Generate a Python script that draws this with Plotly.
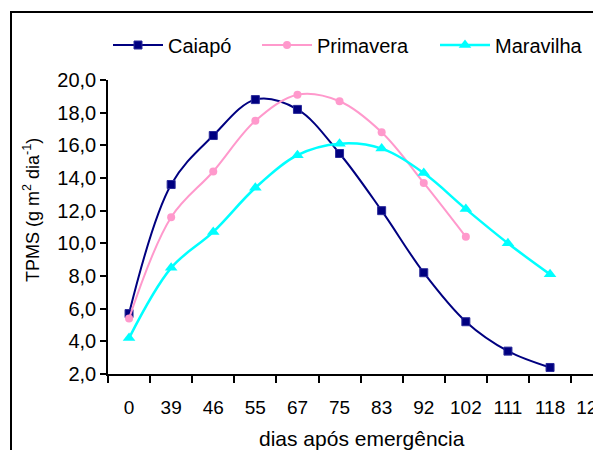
import plotly.graph_objects as go

categories = ["0", "39", "46", "55", "67", "75", "83", "92", "102", "111", "118", "125"]
caiapo = [5.7, 13.6, 16.6, 18.8, 18.2, 15.5, 12.0, 8.2, 5.2, 3.4, 2.4]
primavera = [5.4, 11.6, 14.4, 17.5, 19.1, 18.7, 16.8, 13.7, 10.4]
maravilha = [4.2, 8.5, 10.7, 13.4, 15.4, 16.1, 15.8, 14.3, 12.1, 10.0, 8.1]

FONT = "Liberation Sans, Arial, sans-serif"
OFF = 8  # page body margin
W, H = 601 - OFF, 450 - OFF

def px_x(sx):
    return (sx - OFF) / W

def px_y(sy):
    return 1 - (sy - OFF) / H

PLOT_L, PLOT_T, PLOT_B = 108, 80, 374
pw = W - (PLOT_L - OFF)

fig = go.Figure()
fig.add_trace(go.Scatter(
    x=categories[:len(caiapo)], y=caiapo, name="Caiapó", mode="lines+markers",
    line=dict(color="#000080", width=2, shape="spline", smoothing=1),
    marker=dict(symbol="square", size=8, color="#000080", line=dict(color="#2a2a9a", width=1)),
    legend="legend",
))
fig.add_trace(go.Scatter(
    x=categories[:len(primavera)], y=primavera, name="Primavera", mode="lines+markers",
    line=dict(color="#FF99CC", width=2, shape="spline", smoothing=1),
    marker=dict(symbol="circle", size=8, color="#FF99CC"),
    legend="legend2",
))
fig.add_trace(go.Scatter(
    x=categories[:len(maravilha)], y=maravilha, name="Maravilha", mode="lines+markers",
    line=dict(color="#00FFFF", width=2.5, shape="spline", smoothing=1),
    marker=dict(symbol="triangle-up", size=11, color="#00FFFF"),
    legend="legend3",
))

def leg(sx):
    return dict(
        orientation="h", x=px_x(sx - 7), xanchor="left", y=px_y(45), yanchor="middle",
        font=dict(family=FONT, size=20, color="black"), bgcolor="rgba(0,0,0,0)",
        itemwidth=50,
    )

fig.update_layout(
    width=W, height=H,
    margin=dict(l=0, r=0, t=0, b=0, pad=0, autoexpand=False),
    paper_bgcolor="white", plot_bgcolor="rgba(0,0,0,0)",
    separators=",.",
    font=dict(family=FONT, size=19, color="black"),
    showlegend=True,
    legend=leg(115),
    legend2=leg(264),
    legend3=leg(442),
    xaxis=dict(
        domain=[px_x(PLOT_L), 1],
        type="category", categoryorder="array", categoryarray=categories,
        range=[-0.5, -0.5 + pw / 42.1], tickson="boundaries",
        showline=True, linecolor="black", linewidth=1.5,
        ticks="outside", ticklen=7, tickwidth=1.5, tickcolor="black",
        ticklabelstandoff=15, automargin=False,
        showgrid=False, zeroline=False,
        tickfont=dict(family=FONT, size=19, color="black"),
    ),
    yaxis=dict(
        domain=[px_y(PLOT_B), px_y(PLOT_T)],
        range=[2, 20], tickvals=[2, 4, 6, 8, 10, 12, 14, 16, 18, 20], tickformat=".1f",
        showline=True, linecolor="black", linewidth=1.5,
        ticks="outside", ticklen=6, tickwidth=1.5, tickcolor="black",
        automargin=False,
        showgrid=False, zeroline=False,
        tickfont=dict(family=FONT, size=20, color="black"),
    ),
    shapes=[
        dict(type="rect", xref="paper", yref="paper",
             x0=px_x(11), y0=-0.1, x1=1.1, y1=px_y(12),
             line=dict(color="black", width=2), fillcolor="rgba(0,0,0,0)", layer="above"),
    ],
    annotations=[
        dict(text="dias após emergência", xref="paper", yref="paper",
             x=px_x(362), y=px_y(438), xanchor="center", yanchor="middle",
             showarrow=False, font=dict(family=FONT, size=21, color="black")),
        dict(text="TPMS (g m<sup>2</sup> dia<sup>-1</sup>)", xref="paper", yref="paper",
             x=px_x(32), y=px_y(210), xanchor="center", yanchor="middle", textangle=-90,
             showarrow=False, font=dict(family=FONT, size=18, color="black")),
    ],
)

fig.write_html("out.html")
